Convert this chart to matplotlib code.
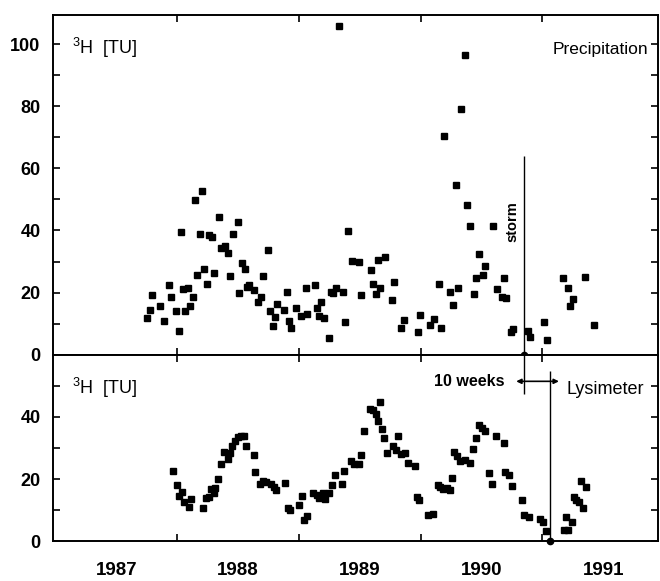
import numpy as np
from matplotlib import pyplot as plt

plt.rcParams['font.family'] = ['Liberation Sans', 'DejaVu Sans']
plt.rcParams['mathtext.fontset'] = 'custom'
plt.rcParams['mathtext.rm'] = 'Liberation Sans'

# precipitation tritium, decimal year / TU
precip_t = [1987.756, 1987.778, 1987.797, 1987.855, 1987.893, 1987.934, 1987.953, 1987.992,
            1988.011, 1988.033, 1988.047, 1988.068, 1988.093, 1988.109, 1988.126, 1988.150,
            1988.167, 1988.186, 1988.208, 1988.224, 1988.246, 1988.265, 1988.285, 1988.304,
            1988.342, 1988.359, 1988.397, 1988.419, 1988.438, 1988.460, 1988.498, 1988.512,
            1988.534, 1988.556, 1988.572, 1988.594, 1988.632, 1988.668, 1988.687, 1988.709,
            1988.747, 1988.764, 1988.786, 1988.802, 1988.821, 1988.881, 1988.901, 1988.920,
            1988.938, 1988.975, 1989.016, 1989.055, 1989.070, 1989.131, 1989.147, 1989.168,
            1989.185, 1989.207, 1989.245, 1989.264, 1989.283, 1989.303, 1989.332, 1989.360,
            1989.382, 1989.404, 1989.439, 1989.497, 1989.513, 1989.593, 1989.612, 1989.631,
            1989.650, 1989.669, 1989.708, 1989.765, 1989.784, 1989.842, 1989.864, 1989.976,
            1989.995, 1990.075, 1990.110, 1990.151, 1990.167, 1990.195, 1990.244, 1990.264,
            1990.288, 1990.307, 1990.332, 1990.365, 1990.379, 1990.406, 1990.436, 1990.455,
            1990.477, 1990.515, 1990.531, 1990.592, 1990.630, 1990.666, 1990.682, 1990.705,
            1990.742, 1990.761, 1990.879, 1990.896, 1991.016, 1991.035, 1991.172, 1991.210,
            1991.229, 1991.254, 1991.347, 1991.421]
precip_tu = [11.8, 14.5, 19.1, 15.5, 10.9, 22.5, 18.7, 14.0,
             7.6, 39.4, 21.0, 14.0, 21.4, 15.5, 18.5, 49.9,
             25.8, 38.8, 52.8, 27.6, 22.6, 38.6, 37.8, 26.2,
             44.5, 34.4, 34.9, 32.6, 25.2, 38.8, 42.8, 19.9,
             29.6, 27.5, 21.8, 22.3, 20.9, 17.0, 18.7, 25.2,
             33.6, 14.1, 9.3, 12.2, 16.4, 14.4, 20.2, 10.9,
             8.7, 15.1, 12.5, 21.4, 13.0, 22.4, 14.9, 12.4,
             16.9, 11.8, 5.4, 20.1, 19.7, 21.6, 105.9, 20.2,
             10.5, 39.8, 30.1, 29.9, 19.1, 27.1, 22.9, 19.5,
             30.5, 21.6, 31.3, 17.7, 23.5, 8.4, 11.1, 7.2,
             12.7, 9.5, 11.5, 22.8, 8.5, 70.4, 20.1, 16.1,
             54.8, 21.4, 79.1, 96.5, 48.1, 41.6, 19.5, 24.8,
             32.4, 25.8, 28.5, 41.6, 21.2, 18.5, 24.7, 18.1,
             7.3, 8.3, 7.7, 5.5, 10.6, 4.6, 24.6, 21.5,
             15.5, 17.8, 24.9, 9.5]

# lysimeter outflow tritium
lys_t = [1987.965, 1988.000, 1988.019, 1988.039, 1988.060, 1988.099, 1988.117, 1988.213,
         1988.236, 1988.263, 1988.277, 1988.301, 1988.314, 1988.334, 1988.356, 1988.386,
         1988.416, 1988.435, 1988.454, 1988.476, 1988.501, 1988.525, 1988.553, 1988.567,
         1988.630, 1988.643, 1988.681, 1988.709, 1988.731, 1988.769, 1988.796, 1988.815,
         1988.889, 1988.909, 1988.930, 1989.004, 1989.026, 1989.045, 1989.065, 1989.119,
         1989.147, 1989.166, 1989.196, 1989.218, 1989.245, 1989.273, 1989.297, 1989.352,
         1989.374, 1989.429, 1989.453, 1989.492, 1989.511, 1989.535, 1989.587, 1989.609,
         1989.634, 1989.648, 1989.667, 1989.683, 1989.702, 1989.722, 1989.776, 1989.798,
         1989.817, 1989.839, 1989.874, 1989.894, 1989.954, 1989.968, 1989.989, 1990.063,
         1990.104, 1990.140, 1990.159, 1990.186, 1990.214, 1990.241, 1990.258, 1990.277,
         1990.299, 1990.323, 1990.367, 1990.406, 1990.433, 1990.452, 1990.477, 1990.507,
         1990.531, 1990.564, 1990.584, 1990.622, 1990.682, 1990.695, 1990.726, 1990.753,
         1990.830, 1990.851, 1990.890, 1990.978, 1991.005, 1991.030, 1991.178, 1991.213,
         1991.194, 1991.241, 1991.257, 1991.278, 1991.301, 1991.336, 1991.315, 1991.358]
lys_tu = [22.6, 18.1, 14.5, 16.0, 12.6, 11.2, 13.5, 10.8,
          13.9, 14.3, 16.9, 15.6, 17.3, 20.1, 25.0, 28.6,
          26.5, 28.5, 30.7, 32.1, 33.4, 33.7, 33.8, 30.5,
          27.6, 22.4, 18.6, 19.3, 19.0, 18.6, 17.6, 16.6,
          18.8, 10.7, 10.2, 11.7, 14.7, 6.9, 8.3, 15.7,
          15.0, 14.1, 15.6, 13.6, 15.7, 18.0, 21.2, 18.5,
          22.5, 25.7, 25.0, 24.9, 27.9, 35.4, 42.6, 42.1,
          40.8, 38.6, 44.9, 36.0, 33.1, 28.4, 30.5, 29.5,
          33.8, 28.1, 28.4, 25.3, 24.3, 14.3, 13.2, 8.5,
          8.9, 18.2, 17.5, 16.9, 17.2, 16.6, 20.4, 28.8,
          27.4, 25.7, 26.3, 25.2, 29.8, 33.3, 37.3, 36.5,
          35.5, 21.9, 18.3, 33.8, 31.5, 22.4, 21.2, 17.7,
          13.4, 8.6, 7.7, 7.3, 6.1, 3.3, 3.6, 3.6,
          7.7, 6.4, 14.4, 13.3, 12.7, 10.9, 19.5, 17.4]

years = [1987, 1988, 1989, 1990, 1991]
STORM = 1990.849
LYSIMETER = 1991.062

XLIM = (1986.98, 1991.95)
MS = 5.0

fig = plt.figure(figsize=(6.6, 5.81), dpi=100)
ax1 = fig.add_axes([0.0803, 0.3898, 0.9167, 0.5844])
ax2 = fig.add_axes([0.0803, 0.0680, 0.9167, 0.3218])

for ax in (ax1, ax2):
    ax.set_xlim(*XLIM)
    for s in ax.spines.values():
        s.set_linewidth(1.4)
    ax.set_xticks([1988, 1989, 1990, 1991])
    ax.set_xticks([y + 0.5 for y in years], minor=True)
    ax.tick_params(axis='x', which='major', direction='in', top=True, bottom=True,
                   length=5, width=1.2, labelbottom=False)
    ax.tick_params(axis='y', which='both', direction='in', left=True, right=True,
                   length=5, width=1.2, pad=9, labelsize=13)

ax1.tick_params(axis='x', which='minor', length=0, labelbottom=False)
ax2.tick_params(axis='x', which='minor', length=0, labelbottom=True, labelsize=13.5, pad=15)
ax2.set_xticklabels([str(y) for y in years], minor=True, fontweight='bold')

# precipitation panel
ax1.plot(precip_t, precip_tu, 's', color='black', ms=MS, mec='black')
ax1.set_ylim(0, 109.5)
ax1.set_yticks(np.arange(0, 101, 20))
ax1.set_yticks(np.arange(10, 100, 20), minor=True)
ax1.set_yticklabels([str(v) for v in range(0, 101, 20)], fontweight='bold', fontsize=13)
ax1.vlines(STORM, 0, 63.9, color='black', lw=1.0)
ax1.plot([STORM], [0], 'o', color='black', ms=4.5, clip_on=False, zorder=5)
ax1.text(1987.138, 96.8, '$^{3}$H  [TU]', fontsize=13, va='baseline')
ax1.text(1991.867, 96.8, 'Precipitation', fontsize=12.5, ha='right', va='baseline')
ax1.text(1990.754, 42.9, 'storm', fontsize=10.5, fontweight='bold', rotation=90,
         ha='center', va='center')

# lysimeter panel
ax2.plot(lys_t, lys_tu, 's', color='black', ms=MS, mec='black')
ax2.set_ylim(0, 60)
ax2.set_yticks([0, 20, 40])
ax2.set_yticks([10, 30, 50], minor=True)
ax2.set_yticklabels(['0', '20', '40'], fontweight='bold', fontsize=13)
ax2.vlines(STORM, 47.3, 60, color='black', lw=1.0)
ax2.vlines(LYSIMETER, 0, 54.8, color='black', lw=1.0)
ax2.plot([LYSIMETER], [0], 'o', color='black', ms=4.5, clip_on=False, zorder=5)
ax2.annotate('', xy=(1990.785, 51.4), xytext=(1991.136, 51.4),
             arrowprops=dict(arrowstyle='<|-|>', color='black', lw=1.2,
                             mutation_scale=7, shrinkA=0, shrinkB=0))
ax2.text(1990.693, 51.4, '10 weeks', fontsize=11.5, fontweight='bold', ha='right', va='center')
ax2.text(1991.202, 47.3, 'Lysimeter', fontsize=13, va='baseline')
ax2.text(1987.138, 47.3, '$^{3}$H  [TU]', fontsize=13, va='baseline')

fig.savefig('out.png', dpi=100)
